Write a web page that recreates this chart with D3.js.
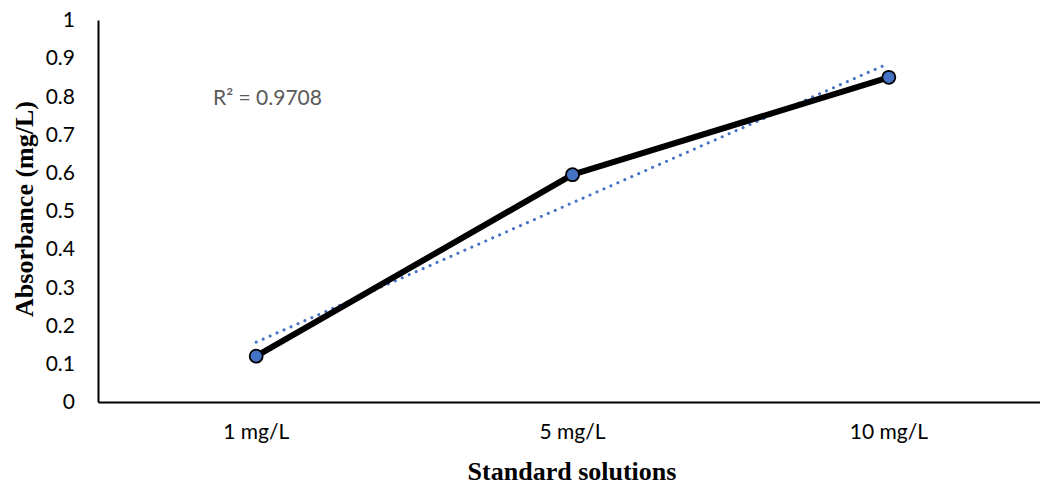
<!DOCTYPE html>
<html><head><meta charset="utf-8">
<script src="https://cdn.jsdelivr.net/npm/d3@7"></script>
<style>body{margin:0;background:#fff}</style>
</head><body>
<svg id="c" width="1040" height="485"></svg>
<script>
const categories = ["1 mg/L", "5 mg/L", "10 mg/L"];
const absorbance = [0.12, 0.595, 0.85];
const yTicks = [0, 0.1, 0.2, 0.3, 0.4, 0.5, 0.6, 0.7, 0.8, 0.9, 1];
const r2Label = "R² = 0.9708";

(function () {
const svg = d3.select("#c");
const mLeft = 98, mRight = 1047, mTop = 20, mBottom = 402;
const x = d3.scaleBand().domain(categories).range([mLeft, mRight]);
const y = d3.scaleLinear().domain([0, 1]).range([mBottom, mTop]);
const cx = d => x(d) + x.bandwidth() / 2;

// linear regression on index 1..n
const n = absorbance.length;
const xs = absorbance.map((_, i) => i + 1);
const mx = d3.mean(xs), my = d3.mean(absorbance);
const slope = d3.sum(xs, (xi, i) => (xi - mx) * (absorbance[i] - my)) / d3.sum(xs, xi => (xi - mx) ** 2);
const intercept = my - slope * mx;

const tickFont = "Lato, 'Open Sans', sans-serif";
const fs = 21;

// y axis
const yAxis = d3.axisLeft(y).tickValues(yTicks).tickSize(0).tickPadding(23).tickFormat(d => d3.format("")(+d.toFixed(1)));
const gy = svg.append("g").attr("transform", `translate(${mLeft},0)`).call(yAxis);
gy.select(".domain").attr("stroke", "#000").attr("stroke-width", 2);
gy.selectAll("text").attr("font-family", tickFont).attr("font-size", fs).attr("fill", "#000");

// x axis
const xAxis = d3.axisBottom(x).tickSize(0).tickPadding(22);
const gx = svg.append("g").attr("transform", `translate(0,${mBottom})`).call(xAxis);
gx.select(".domain").attr("stroke", "#000").attr("stroke-width", 2);
gx.selectAll("text").attr("font-family", tickFont).attr("font-size", fs).attr("fill", "#000");

// trendline
svg.append("line")
  .attr("x1", cx(categories[0])).attr("y1", y(slope * 1 + intercept))
  .attr("x2", cx(categories[n - 1]) - 5).attr("y2", y(slope * (n - 0.016) + intercept))
  .attr("stroke", "#4472C4").attr("stroke-width", 3)
  .attr("stroke-dasharray", "0.1 7.5").attr("stroke-linecap", "round");

// data line
const line = d3.line().x((d, i) => cx(categories[i])).y(d => y(d));
svg.append("path").datum(absorbance).attr("d", line)
  .attr("fill", "none").attr("stroke", "#000").attr("stroke-width", 6).attr("stroke-linejoin", "round");

svg.selectAll("circle.pt").data(absorbance).join("circle")
  .attr("cx", (d, i) => cx(categories[i])).attr("cy", d => y(d)).attr("r", 6.5)
  .attr("fill", "#4472C4").attr("stroke", "#000").attr("stroke-width", 1.8);

// R² label
svg.append("text").attr("x", 213).attr("y", 105).text(r2Label)
  .attr("font-family", tickFont).attr("font-size", 21).attr("fill", "#595959");

// axis titles
svg.append("text").attr("x", 572).attr("y", 480).attr("text-anchor", "middle")
  .attr("font-family", "'Liberation Serif', 'Times New Roman', serif").attr("font-weight", "bold").attr("font-size", 26)
  .text("Standard solutions");
svg.append("text").attr("transform", "translate(33,209) rotate(-90)").attr("text-anchor", "middle")
  .attr("font-family", "'Liberation Serif', 'Times New Roman', serif").attr("font-weight", "bold").attr("font-size", 26)
  .text("Absorbance (mg/L)");
})();
</script>
</body></html>
